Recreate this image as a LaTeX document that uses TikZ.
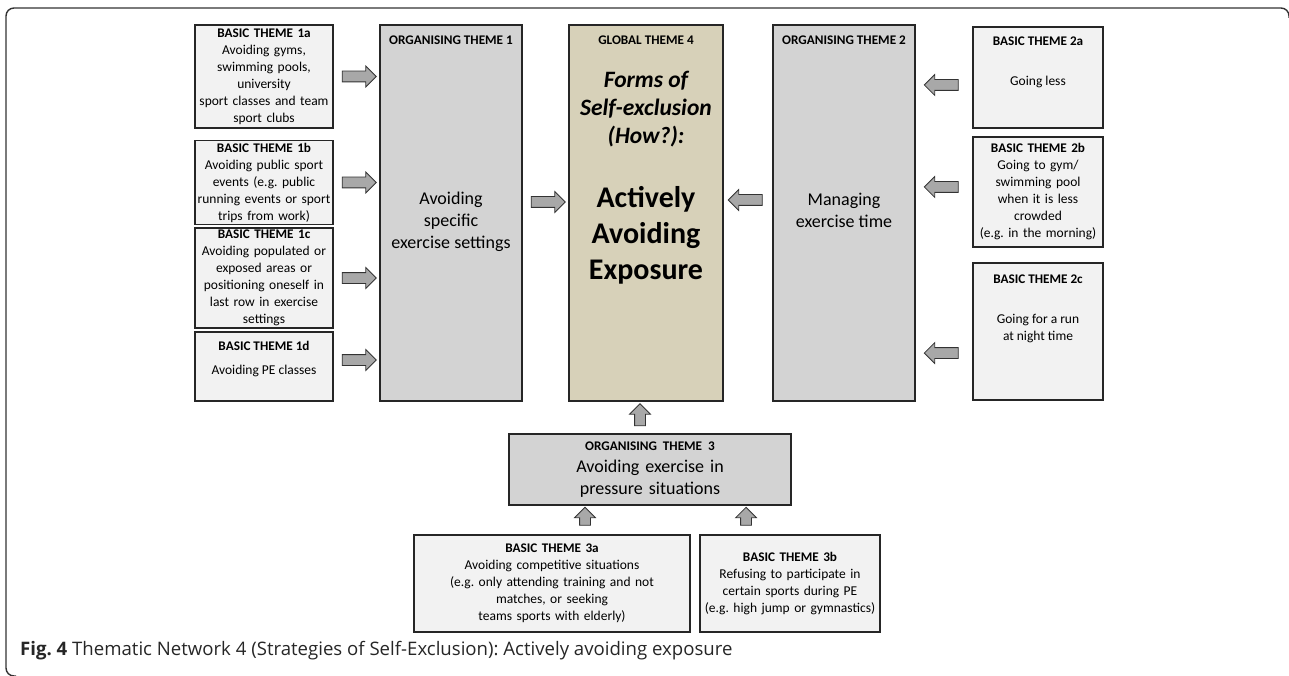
\documentclass[tikz,border=0pt]{standalone}
\usepackage{fontspec}
\setmainfont{Carlito}
\newfontfamily\capfont{Open Sans}
\usetikzlibrary{shapes.arrows, calc, positioning}
\definecolor{basicfill}{HTML}{F2F2F2}
\definecolor{orgfill}{HTML}{D3D3D3}
\definecolor{globfill}{HTML}{D7D1B9}
\definecolor{arrowfill}{HTML}{A8A8A8}
\newcommand{\themehead}[1]{{\fontsize{13.2}{15}\selectfont\bfseries #1}}
\frenchspacing

\begin{document}
\begin{tikzpicture}[x=1pt, y=1pt,
	basic/.style={draw=black!85, fill=basicfill, line width=1.1pt, align=center, inner sep=2pt, font=\fontsize{13.5}{17}\selectfont},
	org/.style={draw=black!85, fill=orgfill, line width=1.1pt, align=center, inner sep=2pt},
	glob/.style={draw=black!85, fill=globfill, line width=1.1pt, inner sep=0pt},
	ttl/.style={inner sep=0pt, font=\fontsize{13.2}{15}\selectfont\bfseries},
	txt/.style={inner sep=0pt, align=center, font=\fontsize{13.5}{17}\selectfont},
	orgtxt/.style={inner sep=0pt, align=center, font=\fontsize{18}{22}\selectfont},
	fatarrow/.style={single arrow, draw=black!80, fill=arrowfill, line width=0.8pt, minimum height=34pt, inner xsep=0pt, inner ysep=5pt, single arrow head extend=5pt, single arrow head indent=0pt},
	uparrow/.style={fatarrow, rotate=90, minimum height=#1},
	leftarrow/.style={fatarrow, rotate=180}]
	\useasboundingbox (0,0) rectangle (1289,-676);
	\draw[rounded corners=8pt, line width=1.4pt, black!80] (16,-676) -- (6,-676) -- (6,-8) -- (1289,-8) -- (1289,-18);

	\node[basic, text width=134pt, minimum height=103pt] (b1a) at (264,-76.5) {\themehead{BASIC THEME 1a}\\Avoiding gyms,\\swimming pools,\\university\\sport classes and team\\sport clubs};
	\node[basic, text width=134pt, minimum height=83pt] (b1b) at (264,-182.5) {\themehead{BASIC THEME 1b}\\Avoiding public sport\\events (e.g. public\\running events or sport\\trips from work)};
	\node[basic, text width=134pt, minimum height=98pt] (b1c) at (264,-278) {\themehead{BASIC THEME 1c}\\Avoiding populated or\\exposed areas or\\positioning oneself in\\last row in exercise\\settings};
	\node[basic, text width=134pt, minimum height=69pt] (b1d) at (264,-366.5) {};
	\node[ttl] (b1dttl) at ([yshift=-14pt]b1d.north) {BASIC THEME 1d};
	\node[txt] (b1dtxt) at ([yshift=-40pt]b1d.north) {Avoiding PE classes};

	\node[org, minimum width=142pt, minimum height=376pt] (o1) at (451,-213) {};
	\node[ttl] (o1ttl) at ([yshift=-16pt]o1.north) {ORGANISING THEME 1};
	\node[orgtxt] (o1txt) at ([yshift=-197pt]o1.north) {Avoiding\\specific\\exercise settings};

	\node[glob, minimum width=154pt, minimum height=376pt] (g4) at (646,-213) {};
	\node[ttl] (g4ttl) at ([yshift=-16pt]g4.north) {GLOBAL THEME 4};
	\node[inner sep=0pt, align=center, font=\fontsize{23.5}{28}\selectfont\bfseries\itshape] (g4q) at ([yshift=-85pt]g4.north) {Forms of\\Self-exclusion\\(How?):};
	\node[inner sep=0pt, align=center, font=\fontsize{30}{36}\selectfont\bfseries] (g4txt) at ([yshift=-211pt]g4.north) {Actively\\Avoiding\\Exposure};

	\node[org, minimum width=142pt, minimum height=376pt] (o2) at (844,-213) {};
	\node[ttl] (o2ttl) at ([yshift=-16pt]o2.north) {ORGANISING THEME 2};
	\node[orgtxt] (o2txt) at ([yshift=-186pt]o2.north) {Managing\\exercise time};

	\node[basic, text width=126pt, minimum height=101pt] (b2a) at (1038,-77.5) {};
	\node[ttl] (b2attl) at ([yshift=-15pt]b2a.north) {BASIC THEME 2a};
	\node[txt] (b2atxt) at ([yshift=-56pt]b2a.north) {Going less};
	\node[basic, text width=126pt, minimum height=110pt] (b2b) at (1038,-192) {\themehead{BASIC THEME 2b}\\Going to gym/\\swimming pool\\when it is less\\crowded\\(e.g. in the morning)};
	\node[basic, text width=126pt, minimum height=137pt] (b2c) at (1038,-331.5) {};
	\node[ttl] (b2cttl) at ([yshift=-17pt]b2c.north) {BASIC THEME 2c};
	\node[txt] (b2ctxt) at ([yshift=-66pt]b2c.north) {Going for a run\\at night time};

	\node[org, text width=278pt, minimum height=71pt, font=\fontsize{18}{22}\selectfont] (o3) at (650,-469.5) {\themehead{ORGANISING THEME 3}\\Avoiding exercise in\\pressure situations};
	\node[basic, text width=272pt, minimum height=97pt] (b3a) at (552,-583.5) {\themehead{BASIC THEME 3a}\\Avoiding competitive situations\\(e.g. only attending training and not\\matches, or seeking\\teams sports with elderly)};
	\node[basic, text width=176pt, minimum height=97pt] (b3b) at (790,-583.5) {\themehead{BASIC THEME 3b}\\Refusing to participate in\\certain sports during PE\\(e.g. high jump or gymnastics)};

	\node[fatarrow] (a1a) at ($(b1a.east)!.5!(o1.west |- b1a.east)$) {};
	\node[fatarrow] (a1b) at ($(b1b.east)!.5!(o1.west |- b1b.east)$) {};
	\node[fatarrow] (a1c) at ($(b1c.east)!.5!(o1.west |- b1c.east)$) {};
	\node[fatarrow] (a1d) at ($(b1d.east)!.5!(o1.west |- b1d.east) + (0,6.5)$) {};
	\node[fatarrow] (a1g) at ($(o1.east)!.5!(g4.west) + (0,11)$) {};
	\node[leftarrow] (a2g) at ($(o2.west)!.5!(g4.east) + (0,13)$) {};
	\node[leftarrow] (a2a) at ($(b2a.west)!.5!(o2.east |- b2a.west) + (0,-7.5)$) {};
	\node[leftarrow] (a2b) at ($(b2b.west)!.5!(o2.east |- b2b.west) + (0,5)$) {};
	\node[leftarrow] (a2c) at ($(b2c.west)!.5!(o2.east |- b2c.west) + (0,-21.5)$) {};
	\node[uparrow=22pt] (a3g) at ($(g4.south)!.5!(o3.north) + (-8,0)$) {};
	\node[uparrow=18pt] (a3a) at (585,-519) {};
	\node[uparrow=18pt] (a3b) at (746,-519) {};

	\node[anchor=west, inner sep=0pt, text=black!85, font=\capfont\fontsize{18.6}{22}\selectfont] (cap) at (20,-651) {\textbf{Fig. 4} Thematic Network 4 (Strategies of Self-Exclusion): Actively avoiding exposure};
\end{tikzpicture}
\end{document}
